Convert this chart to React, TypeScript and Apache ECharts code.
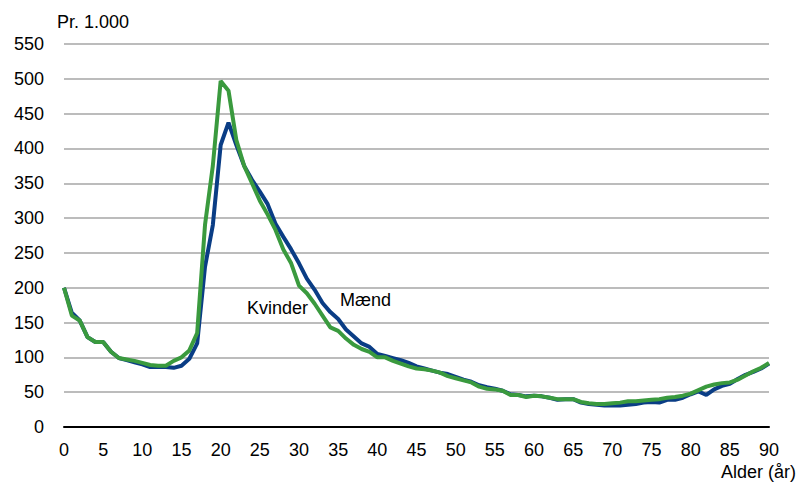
import React, { useEffect, useRef } from "react";
import * as echarts from "echarts";

const ages: string[] = Array.from({ length: 91 }, (_, i) => String(i));

const maend: number[] = [
  200, 164, 153, 129, 122, 122, 108, 99, 96, 93,
  90, 86, 86, 86, 85, 88, 98, 120, 230, 290,
  405, 437, 405, 375, 355, 338, 320, 292, 273, 255,
  235, 213, 197, 178, 165, 155, 140, 130, 120, 115,
  105, 102, 99, 96, 92, 87, 84, 81, 78, 76,
  72, 68, 65, 60, 57, 55, 52, 47, 46, 44,
  45, 44, 42, 39, 40, 40, 35, 33, 32, 31,
  31, 31, 32, 33, 35, 36, 35, 39, 39, 42,
  47, 51, 46, 54, 59, 62, 69, 75, 79, 84,
  91,
];

const kvinder: number[] = [
  200, 160, 153, 129, 122, 122, 108, 99, 97, 95,
  92, 89, 88, 88, 95, 100, 110, 135, 290, 375,
  497, 483, 412, 375, 350, 325, 305, 283, 255, 235,
  203, 192, 177, 160, 143, 138, 127, 118, 112, 108,
  100, 100, 95, 91, 87, 84, 83, 81, 78, 73,
  70, 67, 64, 58, 55, 54, 52, 46, 46, 43,
  45, 44, 42, 40, 40, 40, 36, 34, 33, 33,
  34, 35, 37, 37, 38, 39, 40, 42, 43, 45,
  48, 53, 58, 61, 63, 64, 68, 74, 80, 85,
  92,
];

const FONT = "'Liberation Sans Narrow', 'Arial Narrow', 'Liberation Sans', sans-serif";

export default function App() {
  const ref = useRef<HTMLDivElement>(null);
  useEffect(() => {
    if (!ref.current) return;
    const chart = echarts.init(ref.current, undefined, { renderer: "svg" });
    chart.setOption({
      animation: false,
      backgroundColor: "#ffffff",
      grid: { left: 64, right: 29, top: 44, bottom: 57, containLabel: false },
      xAxis: {
        type: "category",
        data: ages,
        boundaryGap: false,
        axisLine: { show: true, lineStyle: { color: "#000", width: 2 } },
        axisTick: { show: false },
        axisLabel: {
          interval: 4,
          color: "#000",
          fontSize: 18,
          fontFamily: FONT,
          margin: 14,
        },
        splitLine: { show: false },
      },
      yAxis: {
        type: "value",
        min: 0,
        max: 550,
        interval: 50,
        axisLine: { show: false },
        axisTick: { show: false },
        axisLabel: {
          color: "#000",
          fontSize: 18,
          fontFamily: FONT,
          margin: 20,
        },
        splitLine: { lineStyle: { color: "#a6a6a6", width: 1.5 } },
      },
      series: [
        {
          name: "Mænd",
          type: "line",
          data: maend,
          symbol: "none",
          lineStyle: { color: "#0a3d85", width: 4 },
          z: 2,
        },
        {
          name: "Kvinder",
          type: "line",
          data: kvinder,
          symbol: "none",
          lineStyle: { color: "#3a9a3e", width: 4 },
          z: 3,
        },
      ],
      graphic: [
        {
          type: "text",
          left: 57,
          top: 13,
          style: { text: "Pr. 1.000", fontSize: 18, fontFamily: FONT, fill: "#000" },
        },
        {
          type: "text",
          right: 2,
          top: 463,
          style: { text: "Alder (år)", fontSize: 18, fontFamily: FONT, fill: "#000" },
        },
        {
          type: "text",
          left: 247,
          top: 299,
          style: { text: "Kvinder", fontSize: 18, fontFamily: FONT, fill: "#000" },
        },
        {
          type: "text",
          left: 340,
          top: 291,
          style: { text: "Mænd", fontSize: 18, fontFamily: FONT, fill: "#000" },
        },
      ],
    });
    return () => chart.dispose();
  }, []);
  return <div ref={ref} style={{ width: 798, height: 484, position: "absolute", left: 0, top: 0 }} />;
}
